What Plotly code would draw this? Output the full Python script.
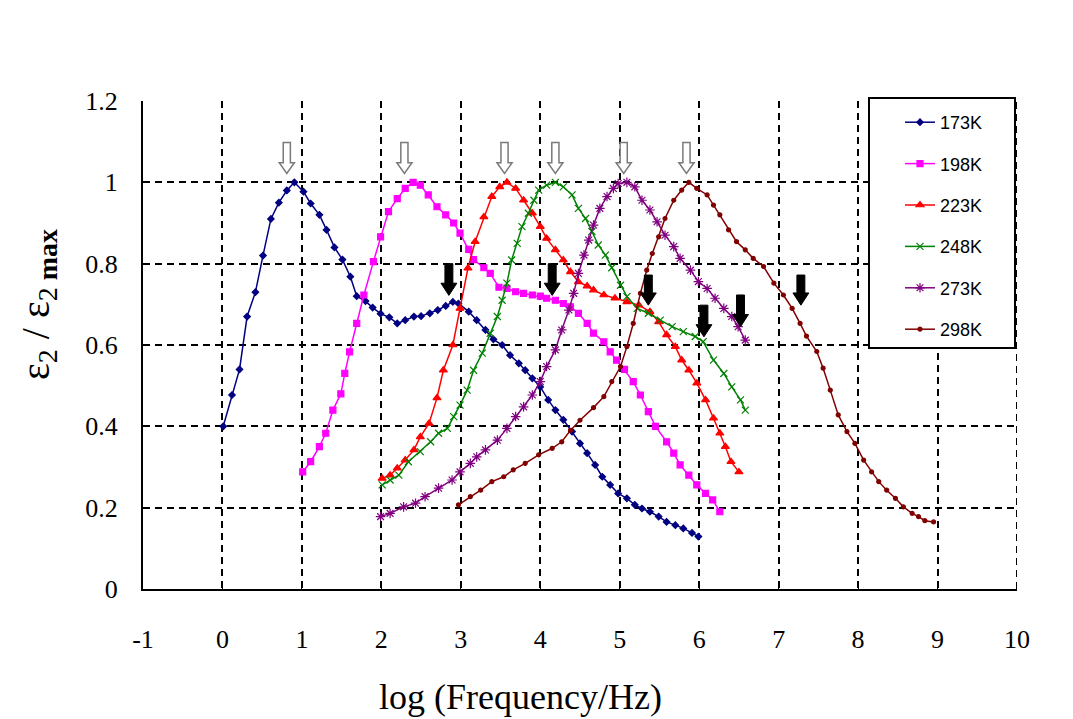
import plotly.graph_objects as go

# ---------------- data ----------------
x_tick_vals = [-1, 0, 1, 2, 3, 4, 5, 6, 7, 8, 9, 10]
x_tick_text = ["-1", "0", "1", "2", "3", "4", "5", "6", "7", "8", "9", "10"]
y_tick_vals = [0, 0.2, 0.4, 0.6, 0.8, 1.0, 1.2]
y_tick_text = ["0", "0.2", "0.4", "0.6", "0.8", "1", "1.2"]

series_names = ["173K", "198K", "223K", "248K", "273K", "298K"]

x_173 = [0.01, 0.12, 0.215, 0.31, 0.415, 0.51, 0.61, 0.71, 0.81, 0.905, 1.02, 1.11, 1.22, 1.31, 1.41, 1.51,
         1.61, 1.69, 1.80, 1.89, 1.99, 2.10, 2.20, 2.30, 2.41, 2.50, 2.61, 2.71, 2.81, 2.90, 2.97, 3.10,
         3.20, 3.31, 3.41, 3.52, 3.62, 3.73, 3.81, 3.90, 4.00, 4.10, 4.19, 4.29, 4.40, 4.50, 4.59, 4.69,
         4.78, 4.88, 4.98, 5.09, 5.19, 5.28, 5.38, 5.49, 5.59, 5.70, 5.80, 5.91, 5.99]
y_173 = [0.40, 0.477, 0.54, 0.67, 0.73, 0.82, 0.91, 0.95, 0.98, 1.0, 0.977, 0.948, 0.92, 0.883, 0.84, 0.81,
         0.768, 0.72, 0.708, 0.692, 0.677, 0.668, 0.653, 0.661, 0.67, 0.671, 0.678, 0.686, 0.696, 0.706, 0.702, 0.682,
         0.661, 0.637, 0.614, 0.60, 0.575, 0.555, 0.538, 0.518, 0.497, 0.465, 0.44, 0.416, 0.387, 0.358, 0.334, 0.305,
         0.276, 0.256, 0.235, 0.223, 0.207, 0.198, 0.19, 0.178, 0.165, 0.157, 0.149, 0.138, 0.129]

x_198 = [1.01, 1.11, 1.22, 1.30, 1.39, 1.49, 1.54, 1.60, 1.69, 1.78, 1.90, 1.99, 2.09, 2.20, 2.30, 2.40,
         2.49, 2.59, 2.70, 2.81, 2.91, 2.99, 3.10, 3.16, 3.29, 3.37, 3.48, 3.58, 3.69, 3.79, 3.90, 4.00,
         4.08, 4.19, 4.29, 4.38, 4.48, 4.59, 4.67, 4.80, 4.88, 4.96, 5.06, 5.17, 5.26, 5.36, 5.45, 5.59,
         5.68, 5.76, 5.87, 5.97, 6.08, 6.17, 6.26]
y_198 = [0.288, 0.313, 0.35, 0.383, 0.44, 0.48, 0.53, 0.583, 0.653, 0.723, 0.805, 0.866, 0.928, 0.96, 0.985, 1.0,
         0.993, 0.969, 0.94, 0.92, 0.90, 0.875, 0.835, 0.81, 0.79, 0.776, 0.742, 0.739, 0.731, 0.727, 0.723, 0.72,
         0.715, 0.71, 0.702, 0.694, 0.678, 0.653, 0.629, 0.608, 0.583, 0.563, 0.54, 0.51, 0.477, 0.436, 0.40, 0.362,
         0.334, 0.305, 0.28, 0.256, 0.235, 0.219, 0.19]

x_223 = [2.01, 2.11, 2.20, 2.30, 2.41, 2.49, 2.60, 2.70, 2.78, 2.90, 2.99, 3.09, 3.18, 3.29, 3.39, 3.49,
         3.58, 3.69, 3.79, 3.90, 4.00, 4.08, 4.19, 4.29, 4.38, 4.48, 4.59, 4.67, 4.80, 4.94, 5.09, 5.24,
         5.38, 5.49, 5.59, 5.70, 5.78, 5.87, 5.97, 6.08, 6.18, 6.26, 6.33, 6.40, 6.50]
y_223 = [0.272, 0.28, 0.297, 0.317, 0.342, 0.374, 0.407, 0.47, 0.538, 0.60, 0.69, 0.789, 0.854, 0.915, 0.965, 0.989,
         1.0, 0.985, 0.956, 0.924, 0.891, 0.862, 0.834, 0.809, 0.78, 0.755, 0.745, 0.735, 0.723, 0.715, 0.706, 0.698,
         0.682, 0.657, 0.625, 0.596, 0.563, 0.538, 0.506, 0.465, 0.42, 0.383, 0.35, 0.313, 0.288]

x_248 = [2.01, 2.11, 2.22, 2.34, 2.49, 2.62, 2.72, 2.83, 2.91, 2.99, 3.08, 3.16, 3.27, 3.37, 3.46, 3.52,
         3.58, 3.64, 3.71, 3.77, 3.85, 3.92, 3.98, 4.08, 4.19, 4.29, 4.40, 4.48, 4.57, 4.65, 4.73, 4.82,
         4.90, 5.01, 5.09, 5.22, 5.36, 5.51, 5.66, 5.80, 5.95, 6.05, 6.18, 6.31, 6.41, 6.52, 6.58]
y_248 = [0.256, 0.268, 0.28, 0.313, 0.338, 0.362, 0.383, 0.395, 0.424, 0.452, 0.489, 0.538, 0.58, 0.629, 0.67, 0.71,
         0.752, 0.809, 0.85, 0.891, 0.924, 0.956, 0.981, 0.993, 1.0, 0.989, 0.969, 0.936, 0.911, 0.879, 0.846, 0.821,
         0.79, 0.747, 0.719, 0.69, 0.678, 0.661, 0.645, 0.633, 0.621, 0.608, 0.563, 0.53, 0.497, 0.465, 0.44]

x_273 = [1.99, 2.11, 2.28, 2.43, 2.55, 2.72, 2.89, 2.99, 3.12, 3.20, 3.31, 3.46, 3.58, 3.69, 3.79, 3.90,
         4.00, 4.08, 4.19, 4.27, 4.36, 4.42, 4.48, 4.55, 4.61, 4.67, 4.75, 4.84, 4.92, 4.98, 5.09, 5.19,
         5.28, 5.38, 5.47, 5.57, 5.68, 5.76, 5.89, 5.99, 6.10, 6.20, 6.31, 6.41, 6.49, 6.58]
y_273 = [0.178, 0.186, 0.202, 0.211, 0.227, 0.248, 0.268, 0.288, 0.309, 0.325, 0.342, 0.366, 0.395, 0.424, 0.448, 0.477,
         0.51, 0.547, 0.588, 0.637, 0.686, 0.727, 0.776, 0.821, 0.858, 0.895, 0.936, 0.965, 0.985, 0.997, 1.0, 0.989,
         0.956, 0.932, 0.903, 0.87, 0.842, 0.813, 0.784, 0.756, 0.739, 0.715, 0.69, 0.67, 0.645, 0.612]

x_298 = [2.97, 3.12, 3.25, 3.39, 3.54, 3.66, 3.81, 3.98, 4.15, 4.27, 4.38, 4.50, 4.67, 4.80, 4.90, 5.01,
         5.09, 5.17, 5.26, 5.34, 5.41, 5.49, 5.57, 5.68, 5.78, 5.87, 5.97, 6.10, 6.18, 6.26, 6.37, 6.47,
         6.58, 6.68, 6.81, 6.94, 7.06, 7.17, 7.27, 7.35, 7.48, 7.56, 7.65, 7.75, 7.86, 7.96, 8.07, 8.17,
         8.26, 8.36, 8.47, 8.57, 8.68, 8.76, 8.84, 8.95]
y_298 = [0.207, 0.227, 0.243, 0.264, 0.276, 0.293, 0.309, 0.33, 0.346, 0.362, 0.39, 0.415, 0.446, 0.473, 0.51, 0.547,
         0.596, 0.653, 0.727, 0.784, 0.825, 0.866, 0.911, 0.956, 0.981, 1.0, 0.985, 0.969, 0.944, 0.92, 0.883, 0.854,
         0.834, 0.813, 0.793, 0.752, 0.723, 0.69, 0.653, 0.622, 0.584, 0.543, 0.489, 0.428, 0.387, 0.358, 0.317, 0.288,
         0.264, 0.243, 0.223, 0.202, 0.186, 0.178, 0.168, 0.165]

# arrow annotations (data coordinates)
peak_arrow_x = [0.81, 2.29, 3.55, 4.19, 5.05, 5.84]
peak_arrow_top = 1.098
peak_arrow_tip = 1.022
shoulder_arrow_x = [2.85, 4.15, 5.36, 6.06, 6.52, 7.28]
shoulder_arrow_top = [0.80, 0.80, 0.772, 0.698, 0.723, 0.772]
shoulder_arrow_tip = [0.722, 0.722, 0.698, 0.62, 0.645, 0.698]

# ---------------- styles ----------------
xs_all = [x_173, x_198, x_223, x_248, x_273, x_298]
ys_all = [y_173, y_198, y_223, y_248, y_273, y_298]
colors = ["#000080", "#FF00FF", "#FF0000", "#008000", "#800080", "#800000"]
symbols = ["diamond", "square", "triangle-up", "x-thin-open", "asterisk-open", "circle"]
sizes = [5, 6, 7, 7, 8, 4]

fig = go.Figure()
for name, xs, ys, c, s, sz in zip(series_names, xs_all, ys_all, colors, symbols, sizes):
    fig.add_trace(go.Scatter(
        x=xs, y=ys, name=name, mode="lines+markers", legendgroup=name,
        line=dict(color=c, width=1.5),
        marker=dict(symbol=s, size=sz, color=c, line=dict(color=c, width=1.2)),
    ))


def block_arrow(xc, ytop, ytip, shaft_hw, head_hw, head_len):
    yn = ytip + head_len
    pts = [(xc - shaft_hw, ytop), (xc + shaft_hw, ytop), (xc + shaft_hw, yn), (xc + head_hw, yn),
           (xc, ytip), (xc - head_hw, yn), (xc - shaft_hw, yn)]
    return "M " + " L ".join(f"{px:.4f},{py:.4f}" for px, py in pts) + " Z"


shapes = []
# dashed gridline on the right border (x = 10)
shapes.append(dict(type="line", xref="x", yref="y", x0=10, x1=10, y0=0, y1=1.2,
                   line=dict(color="black", width=2, dash="7px,5px"), layer="below"))
for xc in peak_arrow_x:
    shapes.append(dict(type="path", xref="x", yref="y",
                       path=block_arrow(xc, peak_arrow_top, peak_arrow_tip, 0.045, 0.095, 0.026),
                       fillcolor="white", line=dict(color="#7a7a7a", width=1.5), layer="above"))
for xc, yt, yp in zip(shoulder_arrow_x, shoulder_arrow_top, shoulder_arrow_tip):
    shapes.append(dict(type="path", xref="x", yref="y",
                       path=block_arrow(xc, yt, yp, 0.05, 0.1, 0.03),
                       fillcolor="black", line=dict(color="black", width=1), layer="above"))

# legend frame
L, R, T, B = 143, 1017, 101, 589
pw, ph = R - L, B - T


def px_x(p):
    return (p - L) / pw


def px_y(p):
    return (B - p) / ph


shapes.append(dict(type="rect", xref="paper", yref="paper",
                   x0=px_x(869), x1=px_x(1015), y0=px_y(348), y1=px_y(98),
                   fillcolor="white", line=dict(color="black", width=2), layer="above"))

serif = "Liberation Serif"
axis_common = dict(showgrid=True, gridcolor="black", gridwidth=2, griddash="7px,5px",
                   showline=True, linecolor="black", linewidth=2, zeroline=False,
                   ticks="inside", ticklen=5, tickcolor="black", tickwidth=1,
                   tickfont=dict(family=serif, size=26, color="black"))

fig.update_layout(
    width=1073, height=719,
    margin=dict(l=L, r=1073 - R, t=T, b=719 - B),
    paper_bgcolor="white", plot_bgcolor="white",
    xaxis=dict(range=[-1, 10], tickvals=x_tick_vals, ticktext=x_tick_text,
               ticklabelstandoff=26, **axis_common),
    yaxis=dict(range=[0, 1.2], tickvals=y_tick_vals, ticktext=y_tick_text,
               ticklabelstandoff=18, **axis_common),
    showlegend=True,
    legend=dict(x=px_x(900), y=px_y(104), xanchor="left", yanchor="top",
                bgcolor="rgba(0,0,0,0)", borderwidth=0, traceorder="grouped",
                tracegroupgap=15, font=dict(family="Liberation Sans", size=18, color="black")),
    shapes=shapes,
    annotations=[
        dict(text="log (Frequency/Hz)", xref="paper", yref="paper", x=px_x(520), y=px_y(697),
             showarrow=False, font=dict(family=serif, size=36, color="black"),
             xanchor="center", yanchor="middle"),
        dict(text="ε<sub>2</sub> / ε<sub>2 <b>max</b></sub>", xref="paper", yref="paper",
             x=px_x(38), y=px_y(305), showarrow=False, textangle=-90,
             font=dict(family=serif, size=40, color="black"), xanchor="center", yanchor="middle"),
    ],
)

fig.write_html("out.html")
